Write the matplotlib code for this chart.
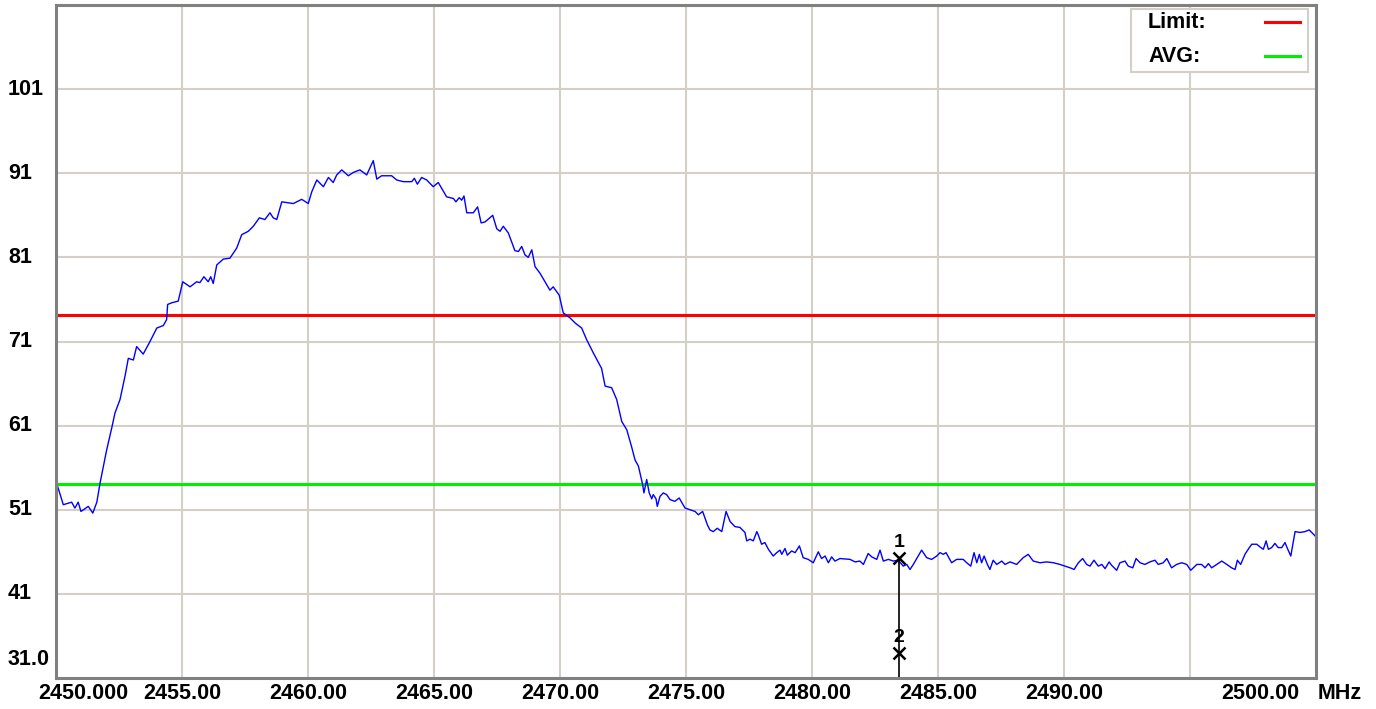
import numpy as np
import matplotlib
matplotlib.use('Agg')
import matplotlib.pyplot as plt
import matplotlib.transforms as mtransforms
from matplotlib.patches import Rectangle
from matplotlib.lines import Line2D

plt.rcParams['font.family'] = ['Liberation Sans', 'DejaVu Sans']

# trace: frequency (MHz) and level
freq = [2450.00, 2450.29, 2450.62, 2450.75, 2450.88, 2450.99, 2451.28, 2451.46, 2451.62, 2451.75,
        2452.01, 2452.21, 2452.34, 2452.54, 2452.74, 2452.87, 2453.07, 2453.20, 2453.46, 2453.73,
        2454.00, 2454.26, 2454.39, 2454.43, 2454.59, 2454.85, 2455.03, 2455.32, 2455.58, 2455.71,
        2455.87, 2456.04, 2456.14, 2456.24, 2456.38, 2456.64, 2456.90, 2457.17, 2457.37, 2457.63,
        2457.83, 2458.07, 2458.29, 2458.49, 2458.62, 2458.76, 2458.96, 2459.42, 2459.75, 2460.01,
        2460.15, 2460.35, 2460.61, 2460.81, 2461.00, 2461.14, 2461.34, 2461.60, 2461.80, 2462.06,
        2462.33, 2462.59, 2462.73, 2462.92, 2463.32, 2463.52, 2463.78, 2464.12, 2464.22, 2464.34,
        2464.51, 2464.71, 2464.97, 2465.17, 2465.50, 2465.77, 2465.87, 2466.00, 2466.10, 2466.19,
        2466.30, 2466.56, 2466.73, 2466.87, 2467.02, 2467.33, 2467.49, 2467.62, 2467.75, 2467.95,
        2468.21, 2468.35, 2468.48, 2468.61, 2468.74, 2468.88, 2469.01, 2469.21, 2469.60, 2469.73,
        2469.97, 2470.13, 2470.40, 2470.60, 2470.86, 2471.06, 2471.33, 2471.65, 2471.79, 2472.05,
        2472.25, 2472.45, 2472.65, 2472.84, 2472.98, 2473.11, 2473.28, 2473.33, 2473.44, 2473.54,
        2473.64, 2473.70, 2473.81, 2473.86, 2473.97, 2474.10, 2474.23, 2474.37, 2474.56, 2474.73,
        2474.96, 2475.16, 2475.36, 2475.49, 2475.66, 2475.85, 2475.95, 2476.08, 2476.24, 2476.42,
        2476.59, 2476.75, 2476.94, 2477.14, 2477.34, 2477.41, 2477.54, 2477.67, 2477.81, 2477.87,
        2478.00, 2478.13, 2478.27, 2478.46, 2478.60, 2478.73, 2478.80, 2478.93, 2479.02, 2479.19,
        2479.33, 2479.50, 2479.65, 2479.85, 2480.05, 2480.25, 2480.38, 2480.52, 2480.65, 2480.78,
        2480.91, 2481.11, 2481.51, 2481.71, 2481.90, 2482.04, 2482.23, 2482.37, 2482.57, 2482.70,
        2482.83, 2483.03, 2483.23, 2483.42, 2483.62, 2483.76, 2483.89, 2484.02, 2484.35, 2484.55,
        2484.75, 2484.95, 2485.08, 2485.21, 2485.32, 2485.54, 2485.74, 2486.00, 2486.14, 2486.30,
        2486.43, 2486.54, 2486.64, 2486.73, 2486.83, 2486.96, 2487.06, 2487.19, 2487.33, 2487.53,
        2487.66, 2487.86, 2488.12, 2488.38, 2488.58, 2488.78, 2489.05, 2489.31, 2489.58, 2489.84,
        2490.04, 2490.24, 2490.40, 2490.57, 2490.74, 2490.90, 2491.03, 2491.19, 2491.36, 2491.50,
        2491.63, 2491.79, 2491.89, 2492.09, 2492.22, 2492.42, 2492.55, 2492.73, 2492.86, 2493.02,
        2493.21, 2493.41, 2493.61, 2493.74, 2493.94, 2494.08, 2494.27, 2494.47, 2494.67, 2494.87,
        2495.03, 2495.27, 2495.46, 2495.60, 2495.73, 2495.86, 2496.06, 2496.26, 2496.46, 2496.65,
        2496.79, 2496.88, 2497.01, 2497.18, 2497.31, 2497.45, 2497.65, 2497.81, 2497.91, 2498.02,
        2498.11, 2498.24, 2498.37, 2498.50, 2498.64, 2498.77, 2498.88, 2499.00, 2499.17, 2499.37,
        2499.56, 2499.73, 2499.96]
level = [54.4, 51.6, 51.9, 51.2, 51.9, 50.8, 51.4, 50.6, 51.9, 54.2,
         58.1, 60.7, 62.5, 64.1, 66.9, 69.0, 68.8, 70.4, 69.5, 71.0,
         72.6, 72.9, 73.6, 75.4, 75.6, 75.8, 78.1, 77.5, 78.1, 78.0,
         78.7, 78.1, 78.7, 77.9, 80.1, 80.8, 80.9, 82.1, 83.7, 84.1,
         84.7, 85.7, 85.5, 86.3, 85.7, 85.5, 87.6, 87.4, 87.9, 87.4,
         88.8, 90.2, 89.4, 90.5, 89.9, 90.8, 91.4, 90.7, 91.1, 91.4,
         90.8, 92.5, 90.3, 90.7, 90.7, 90.2, 90.0, 90.0, 90.4, 89.7,
         90.5, 90.2, 89.4, 89.9, 88.2, 88.0, 87.6, 88.1, 87.8, 88.3,
         86.3, 86.3, 87.0, 85.1, 85.2, 86.0, 84.4, 84.1, 84.7, 83.9,
         81.8, 81.7, 82.3, 81.3, 81.0, 81.9, 79.9, 79.1, 77.1, 77.5,
         76.5, 74.4, 73.8, 73.2, 72.6, 71.2, 69.6, 67.8, 65.7, 65.5,
         64.1, 61.5, 60.5, 58.5, 56.9, 56.2, 54.0, 53.0, 54.6, 53.0,
         52.3, 52.8, 52.3, 51.4, 52.6, 53.0, 52.8, 52.2, 52.0, 52.4,
         51.2, 51.0, 50.8, 50.4, 50.8, 49.2, 48.6, 48.4, 48.8, 48.4,
         50.8, 49.6, 49.0, 48.9, 48.3, 47.3, 47.5, 47.3, 48.4, 48.0,
         46.9, 47.1, 46.3, 45.5, 45.9, 46.2, 45.7, 46.4, 45.6, 46.1,
         45.9, 46.7, 45.3, 45.1, 44.7, 46.0, 45.2, 45.5, 44.7, 45.4,
         44.9, 45.2, 45.1, 44.8, 44.9, 44.5, 45.8, 45.4, 45.1, 46.2,
         44.9, 45.1, 44.9, 45.0, 44.3, 44.5, 43.9, 44.5, 46.2, 45.3,
         45.1, 45.5, 45.9, 45.7, 45.9, 44.7, 45.1, 45.1, 44.7, 44.3,
         45.9, 44.7, 45.7, 44.7, 45.5, 44.5, 43.9, 45.0, 44.5, 44.9,
         44.5, 44.8, 44.5, 45.3, 45.7, 44.9, 44.7, 44.8, 44.7, 44.5,
         44.3, 44.1, 43.9, 44.7, 45.2, 44.5, 44.3, 45.0, 44.3, 44.5,
         44.0, 44.8, 44.4, 43.8, 44.7, 44.9, 44.3, 44.1, 45.2, 44.7,
         44.5, 44.8, 45.0, 44.5, 44.7, 45.2, 44.1, 44.5, 44.7, 44.5,
         43.8, 44.5, 44.5, 44.1, 44.6, 44.1, 44.5, 44.9, 44.5, 44.1,
         43.9, 45.0, 44.5, 45.7, 46.3, 46.9, 46.9, 46.5, 46.3, 47.3,
         46.3, 46.5, 47.0, 46.5, 46.5, 47.1, 46.3, 45.5, 48.4, 48.3,
         48.4, 48.6, 47.9]

limit_level = 74.1
avg_level = 54.1
marker_freq = 2483.45
marker_levels = [45.3, 34.0]
marker_names = ['1', '2']

y_ticks = [101, 91, 81, 71, 61, 51, 41]
x_ticks = [2455, 2460, 2465, 2470, 2475, 2480, 2485, 2490, 2495]
x_labels = ['2455.00', '2460.00', '2465.00', '2470.00', '2475.00',
            '2480.00', '2485.00', '2490.00', '']

W, H = 1376, 709
fs = 15.5
fig = plt.figure(figsize=(W / 100, H / 100), dpi=100)
ax = fig.add_axes([56 / W, 1 - 678 / H, 1260 / W, 673 / H])
ax.set_xlim(2450, 2500)
ax.set_ylim(31, 111)

grid_c = '#d4d0c8'
ax.set_xticks(x_ticks)
ax.set_xticklabels(x_labels, fontsize=fs, fontweight='bold')
ax.set_yticks(y_ticks)
ax.set_yticklabels([])
ax.tick_params(length=0)
ax.tick_params(axis='x', pad=3.5)
ax.grid(True, color=grid_c, lw=1.5)
ax.set_axisbelow(True)
for s in ax.spines.values():
    s.set_color('#808080')
    s.set_linewidth(2.2)

# level lines and trace
ax.axhline(limit_level, color='#ff0000', lw=2.2)
ax.axhline(avg_level, color='#00ee00', lw=2.2)
ax.plot(freq, level, color='#0000ff', lw=1.0)

# markers
ax.plot([marker_freq, marker_freq], [31, marker_levels[0]], color='black', lw=1.2)
ax.plot([marker_freq] * 2, marker_levels, ls='none', marker='x', ms=9, mew=1.8, color='black')
for name, lv in zip(marker_names, marker_levels):
    ax.annotate(name, (marker_freq, lv), xytext=(0, 5), textcoords='offset points',
                ha='center', va='bottom', fontsize=14, fontweight='bold')

# y labels sit at the left edge of the figure
ytrans = mtransforms.blended_transform_factory(fig.transFigure, ax.transData)
for v in y_ticks:
    ax.text(8 / W, v, str(v), transform=ytrans, ha='left', va='center',
            fontsize=fs, fontweight='bold')
ax.text(8 / W, 33.2, '31.0', transform=ytrans, ha='left', va='center',
        fontsize=fs, fontweight='bold')

# end labels on the x axis
xtrans = mtransforms.blended_transform_factory(ax.transData, ax.transAxes)
ax.text(2449.29, -0.008, '2450.000', transform=xtrans, ha='left', va='top',
        fontsize=fs, fontweight='bold', clip_on=False)
ax.text(2497.78, -0.008, '2500.00', transform=xtrans, ha='center', va='top',
        fontsize=fs, fontweight='bold', clip_on=False)
ax.text(2500.05, -0.008, 'MHz', transform=xtrans, ha='left', va='top',
        fontsize=fs, fontweight='bold', clip_on=False)

# key box in the upper right corner
fig.add_artist(Rectangle((1131 / W, 1 - 72 / H), 177 / W, 63 / H,
                         transform=fig.transFigure, facecolor='white',
                         edgecolor=grid_c, lw=1.5, zorder=5))
for name, c, ypx in [('Limit:', '#ff0000', 22), ('AVG:', '#00ee00', 56)]:
    fig.text(1148 / W, 1 - ypx / H, name, ha='left', va='center',
             fontsize=fs, fontweight='bold', zorder=6)
    fig.add_artist(Line2D([1265 / W, 1300 / W], [1 - ypx / H] * 2, color=c,
                          lw=2.2, transform=fig.transFigure, zorder=6))

plt.savefig('out.png', dpi=100)
